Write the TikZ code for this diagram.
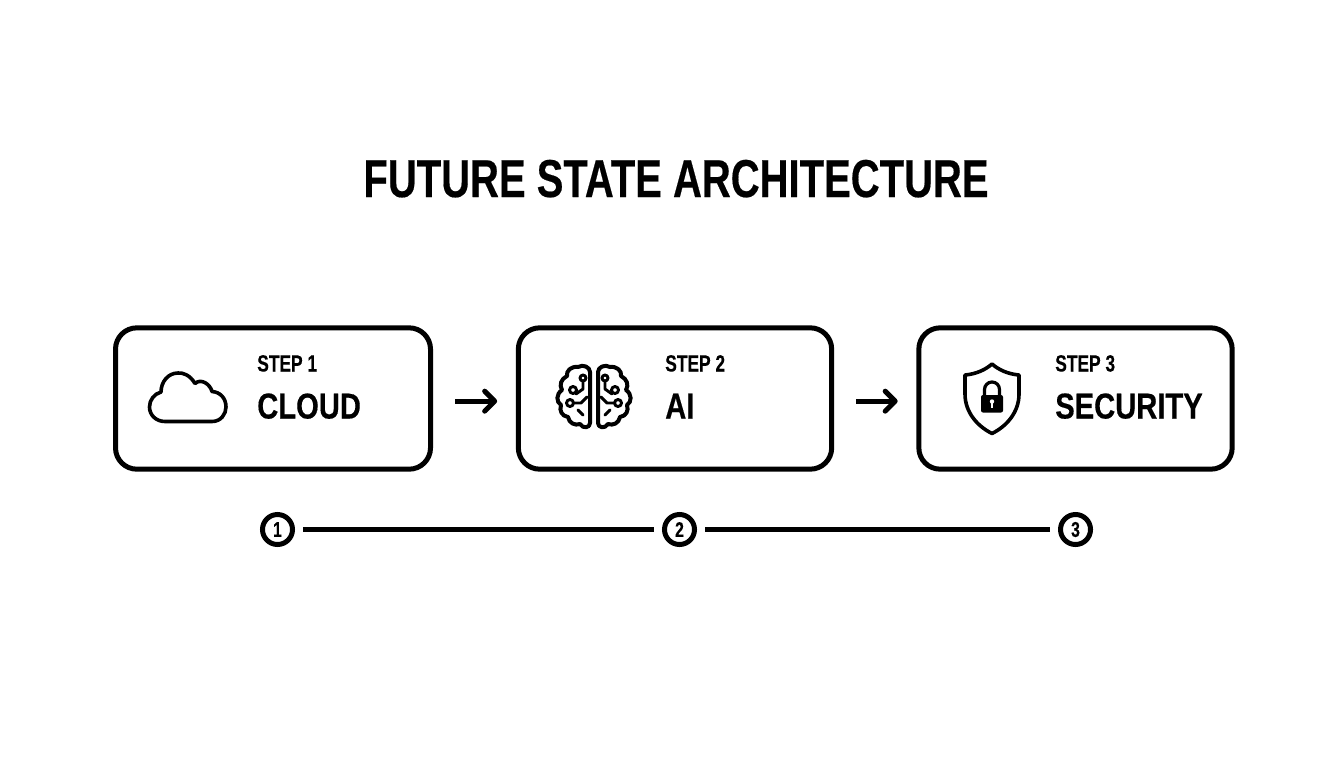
\documentclass[tikz,border=0pt]{standalone}
\usepackage{fontspec}
\setmainfont{Liberation Sans}
\newfontfamily\titlefont[FakeStretch=0.75,FakeBold=0.35]{Liberation Sans}
\newfontfamily\stepfont[FakeStretch=0.74,FakeBold=0.25]{Liberation Sans}
\newfontfamily\namefont[FakeStretch=0.81,FakeBold=0.35]{Liberation Sans}
\usetikzlibrary{arrows.meta}
\tikzset{
  stepbox/.style={draw=black,line width=3.75pt,rounded corners=16pt,minimum width=236.25pt,minimum height=106pt,inner sep=0pt,fill=white},
  titletext/.style={font=\titlefont\bfseries\fontsize{40}{44}\selectfont,anchor=base,inner sep=0pt},
  steptext/.style={font=\stepfont\bfseries\fontsize{17.6}{20}\selectfont,anchor=base west,inner sep=0pt},
  nametext/.style={font=\namefont\bfseries\fontsize{27}{30}\selectfont,anchor=base west,inner sep=0pt},
  flow/.style={line width=3.75pt,-{Straight Barb[length=7.5pt,width=15pt,line cap=round,round]}},
  numdot/.style={circle,draw=black,line width=3.75pt,minimum size=22.5pt,inner sep=0pt,font=\stepfont\bfseries\fontsize{16}{18}\selectfont},
  track/.style={line width=3.75pt},
  icon/.style={line width=2.7pt,line join=round,line cap=round},
  brain icon/.style={line width=3pt,line join=round,line cap=round},
  thin icon/.style={line width=2.2pt,line join=round,line cap=round}
}
\begin{document}
\begin{tikzpicture}[x=0.75pt,y=-0.75pt]
\useasboundingbox (0,0) rectangle (1344,768);
\fill[white] (0,0) rectangle (1344,768);
\node[titletext] (title) at (676,197) {FUTURE STATE ARCHITECTURE};
\node[stepbox] (b1) at (273,398.5) {};
\node[stepbox,minimum width=235pt] (b2) at (675,398.5) {};
\node[stepbox,minimum width=235pt] (b3) at (1075.5,398.5) {};
\draw[flow,shorten <=16.5pt,shorten >=14pt] ([yshift=-2pt]b1.east) -- ([yshift=-2pt]b2.west);
\draw[flow,shorten <=16.5pt,shorten >=14pt] ([yshift=-2pt]b2.east) -- ([yshift=-2pt]b3.west);
\node[steptext] (s1) at (257,371.5) {STEP 1};
\node[nametext] (n1) at (257,418.5) {CLOUD};
\node[steptext] (s2) at (665,371.5) {STEP 2};
\node[nametext] (n2) at (665,418.5) {AI};
\node[steptext] (s3) at (1055,371.5) {STEP 3};
\node[nametext] (n3) at (1055,418.5) {SECURITY};
% cloud
\draw[icon] (165,421.5) -- (212,421.5)
  .. controls (221,421.5) and (226,414) .. (226,407)
  .. controls (226,398) and (220,392) .. (212,391.5)
  .. controls (210,384) and (201,378) .. (195,383.5)
  .. controls (190,375) and (183,372.5) .. (178,373)
  .. controls (168,373) and (161,382) .. (161,392)
  .. controls (154,394) and (149.5,400) .. (149.5,407)
  .. controls (149.5,415) and (156,421.5) .. (165,421.5) -- cycle;
% brain halves
\foreach \s/\o in {1/0,-1/1188}{
\begin{scope}[xshift=\o*0.75pt,xscale=\s]
\draw[brain icon] (590,372) .. controls (590,367) and (583,364) .. (578,367)
  .. controls (571,366) and (566,371) .. (567,376)
  .. controls (561,379) and (559,385) .. (562,390)
  .. controls (556,394) and (556,402) .. (561,405)
  .. controls (559,411) and (562,416) .. (568,417)
  .. controls (569,423) and (575,426) .. (580,424)
  .. controls (583,429) and (590,428) .. (590,423) -- cycle;
\draw[thin icon] (583,381) -- (583,389) -- (576,394);
\draw[thin icon] (573,403) -- (581,403) -- (587,397);
\draw[thin icon] (578,410) -- (583,415);
\draw[thin icon] (583,378) circle[radius=3];
\draw[thin icon] (573,390) circle[radius=3.5];
\draw[thin icon] (570,403) circle[radius=3.5];
\end{scope}}
% shield
\draw[icon] (992,364) .. controls (985,370) and (976,374) .. (965,375)
  -- (965,394) .. controls (965,412) and (977,426) .. (992,433.5)
  .. controls (1007,426) and (1019,412) .. (1019,394)
  -- (1019,375) .. controls (1008,374) and (999,370) .. (992,364) -- cycle;
\draw[line width=2.4pt] (984.5,396) -- (984.5,389.5) arc[start angle=180,end angle=360,radius=7.5] -- (999.5,396);
\fill[black,rounded corners=1.5pt] (981,395) rectangle (1003,412.5);
\fill[white] (992,401.5) circle[radius=2.2];
\draw[white,line width=1.5pt] (992,402) -- (992,407.5);
% timeline
\node[numdot] (c1) at (277.5,529.5) {1};
\node[numdot] (c2) at (679.5,529.5) {2};
\node[numdot] (c3) at (1075.5,529.5) {3};
\draw[track,shorten <=6pt,shorten >=6pt] (c1) -- (c2);
\draw[track,shorten <=6pt,shorten >=6pt] (c2) -- (c3);
\end{tikzpicture}
\end{document}
